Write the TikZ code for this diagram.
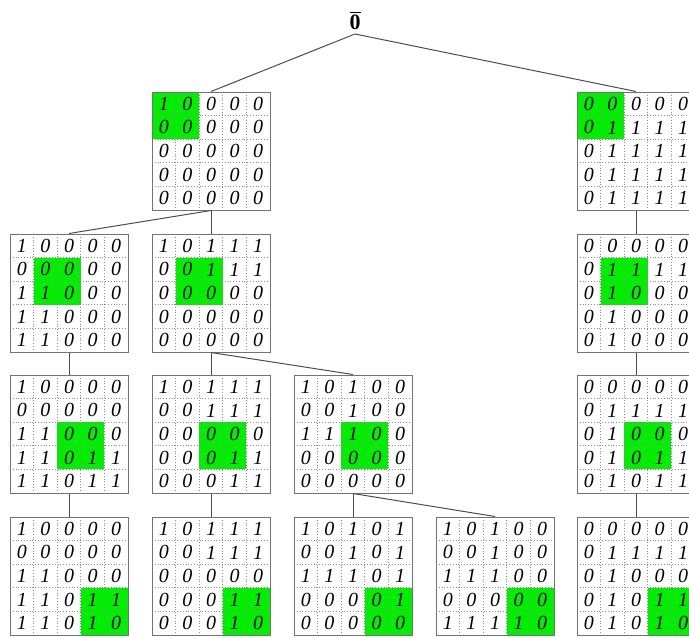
\documentclass[tikz,border=0pt]{standalone}
\usepackage{fontspec}
\setmainfont{Liberation Serif}
\usepackage{tikz}

\definecolor{hlgreen}{RGB}{0,238,0}

% one 5x5 bit matrix: name, centre x, centre y, green column, green row, rows
\newcommand{\bitmat}[6]{%
  \begin{scope}[shift={(#2,#3)}]
    \fill[hlgreen] ({-59+23.6*#4},{-59+23.6*#5}) rectangle ++(47.2,47.2);
    \foreach \k in {1,...,4} {
      \draw[cellgrid] ({-59+23.6*\k},-59) -- ++(0,118);
      \draw[cellgrid] (-59,{-59+23.6*\k}) -- ++(118,0);
    }
    \foreach \rowlist [count=\i] in {#6} {
      \foreach \val [count=\j] in \rowlist
        \node[bit] at ({-70.8+23.6*\j},{-70.8+23.6*\i}) {\val};
    }
  \end{scope}
  \node[matbox] (#1) at (#2,#3) {};
}

\begin{document}
\begin{tikzpicture}[x=0.5pt,y=-0.5pt,
  matbox/.style={draw=black!55,line width=0.5pt,minimum size=59pt,inner sep=0pt},
  cellgrid/.style={draw=black!45,line width=0.4pt,dash pattern=on 0.4pt off 1pt},
  bit/.style={font=\fontsize{10}{12}\selectfont\itshape,inner sep=0pt},
  link/.style={draw=black!70,line width=0.5pt}]
\clip (0,0) rectangle (689,637);
\node[font=\fontsize{11}{13}\selectfont,inner sep=2pt,anchor=south] (root) at (355,34) {$\overline{\textbf{0}}$};

% first level
\bitmat{a}{211}{151}{0}{0}{{1,0,0,0,0},{0,0,0,0,0},{0,0,0,0,0},{0,0,0,0,0},{0,0,0,0,0}}
\bitmat{b}{636}{151}{0}{0}{{0,0,0,0,0},{0,1,1,1,1},{0,1,1,1,1},{0,1,1,1,1},{0,1,1,1,1}}
% second level
\bitmat{aa}{69}{293}{1}{1}{{1,0,0,0,0},{0,0,0,0,0},{1,1,0,0,0},{1,1,0,0,0},{1,1,0,0,0}}
\bitmat{ab}{211}{293}{1}{1}{{1,0,1,1,1},{0,0,1,1,1},{0,0,0,0,0},{0,0,0,0,0},{0,0,0,0,0}}
\bitmat{ba}{636}{293}{1}{1}{{0,0,0,0,0},{0,1,1,1,1},{0,1,0,0,0},{0,1,0,0,0},{0,1,0,0,0}}
% third level
\bitmat{aaa}{69}{434}{2}{2}{{1,0,0,0,0},{0,0,0,0,0},{1,1,0,0,0},{1,1,0,1,1},{1,1,0,1,1}}
\bitmat{aba}{211}{434}{2}{2}{{1,0,1,1,1},{0,0,1,1,1},{0,0,0,0,0},{0,0,0,1,1},{0,0,0,1,1}}
\bitmat{abb}{353}{434}{2}{2}{{1,0,1,0,0},{0,0,1,0,0},{1,1,1,0,0},{0,0,0,0,0},{0,0,0,0,0}}
\bitmat{baa}{636}{434}{2}{2}{{0,0,0,0,0},{0,1,1,1,1},{0,1,0,0,0},{0,1,0,1,1},{0,1,0,1,1}}
% fourth level
\bitmat{aaaa}{69}{576}{3}{3}{{1,0,0,0,0},{0,0,0,0,0},{1,1,0,0,0},{1,1,0,1,1},{1,1,0,1,0}}
\bitmat{abaa}{211}{576}{3}{3}{{1,0,1,1,1},{0,0,1,1,1},{0,0,0,0,0},{0,0,0,1,1},{0,0,0,1,0}}
\bitmat{abba}{353}{576}{3}{3}{{1,0,1,0,1},{0,0,1,0,1},{1,1,1,0,1},{0,0,0,0,1},{0,0,0,0,0}}
\bitmat{abbb}{495}{576}{3}{3}{{1,0,1,0,0},{0,0,1,0,0},{1,1,1,0,0},{0,0,0,0,0},{1,1,1,1,0}}
\bitmat{baaa}{636}{576}{3}{3}{{0,0,0,0,0},{0,1,1,1,1},{0,1,0,0,0},{0,1,0,1,1},{0,1,0,1,0}}

\draw[link] (root.south) -- (a.north);
\draw[link] (root.south) -- (b.north);
\draw[link] (a.south) -- (aa.north);
\draw[link] (a.south) -- (ab.north);
\draw[link] (b.south) -- (ba.north);
\draw[link] (aa.south) -- (aaa.north);
\draw[link] (ab.south) -- (aba.north);
\draw[link] (ab.south) -- (abb.north);
\draw[link] (ba.south) -- (baa.north);
\draw[link] (aaa.south) -- (aaaa.north);
\draw[link] (aba.south) -- (abaa.north);
\draw[link] (abb.south) -- (abba.north);
\draw[link] (abb.south) -- (abbb.north);
\draw[link] (baa.south) -- (baaa.north);
\end{tikzpicture}
\end{document}
